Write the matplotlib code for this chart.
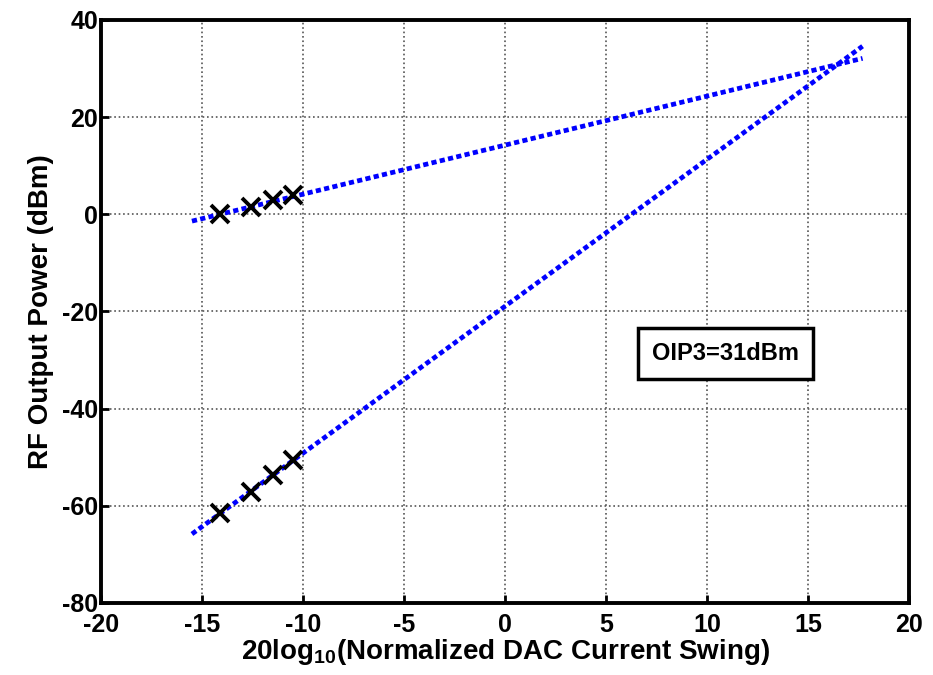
import numpy as np
import matplotlib
matplotlib.use('Agg')
import matplotlib.pyplot as plt

plt.rcParams['font.family'] = ['Liberation Sans', 'DejaVu Sans']
plt.rcParams['font.weight'] = 'bold'
plt.rcParams['axes.unicode_minus'] = False
plt.rcParams['mathtext.fontset'] = 'custom'
plt.rcParams['mathtext.rm'] = 'Liberation Sans:bold'
plt.rcParams['mathtext.bf'] = 'Liberation Sans:bold'
plt.rcParams['mathtext.default'] = 'bf'

# measured points
fund_x = [-14.1, -12.6, -11.5, -10.5]
fund_y = [0.0, 1.6, 2.9, 3.9]
im3_x = [-14.1, -12.6, -11.5, -10.5]
im3_y = [-61.5, -57.2, -53.7, -50.6]

# fitted lines (end points)
fund_fit_x = [-15.5, 17.7]
fund_fit_y = [-1.4, 32.1]
im3_fit_x = [-15.5, 17.7]
im3_fit_y = [-65.8, 34.6]

oip3_label = 'OIP3=31dBm'

fig = plt.figure(figsize=(9.33, 6.75), dpi=100)
ax = fig.add_axes([0.1083, 0.1067, 0.866, 0.8637])

dots = (0, (1.1, 0.7))
ax.plot(fund_fit_x, fund_fit_y, color='blue', linestyle=dots, linewidth=3.4)
ax.plot(im3_fit_x, im3_fit_y, color='blue', linestyle=dots, linewidth=3.4)
ax.plot(fund_x, fund_y, 'x', color='black', markersize=13, markeredgewidth=2.8)
ax.plot(im3_x, im3_y, 'x', color='black', markersize=13, markeredgewidth=2.8)

ax.text(10.9, -28.6, oip3_label, fontsize=17, fontweight='bold',
        ha='center', va='center',
        bbox=dict(boxstyle='square,pad=0.6', facecolor='white', edgecolor='black', linewidth=2.5))

ax.set_xlim(-20, 20)
ax.set_ylim(-80, 40)
ax.set_xticks(np.arange(-20, 21, 5))
ax.set_yticks(np.arange(-80, 41, 20))
ax.grid(True, linestyle=':', color='#555555', linewidth=1.2)
ax.tick_params(direction='in', length=6, width=2, labelsize=18)
ax.tick_params(axis='x', pad=7)
ax.tick_params(axis='y', pad=2)
for lab in ax.get_xticklabels() + ax.get_yticklabels():
    lab.set_fontweight('bold')
for s in ax.spines.values():
    s.set_linewidth(2.8)

ax.set_xlabel(r'20log$_{10}$(Normalized DAC Current Swing)', fontsize=20, fontweight='bold', labelpad=0)
ax.set_ylabel('RF Output Power (dBm)', fontsize=20, fontweight='bold', labelpad=6)

fig.savefig('out.png', dpi=100)
